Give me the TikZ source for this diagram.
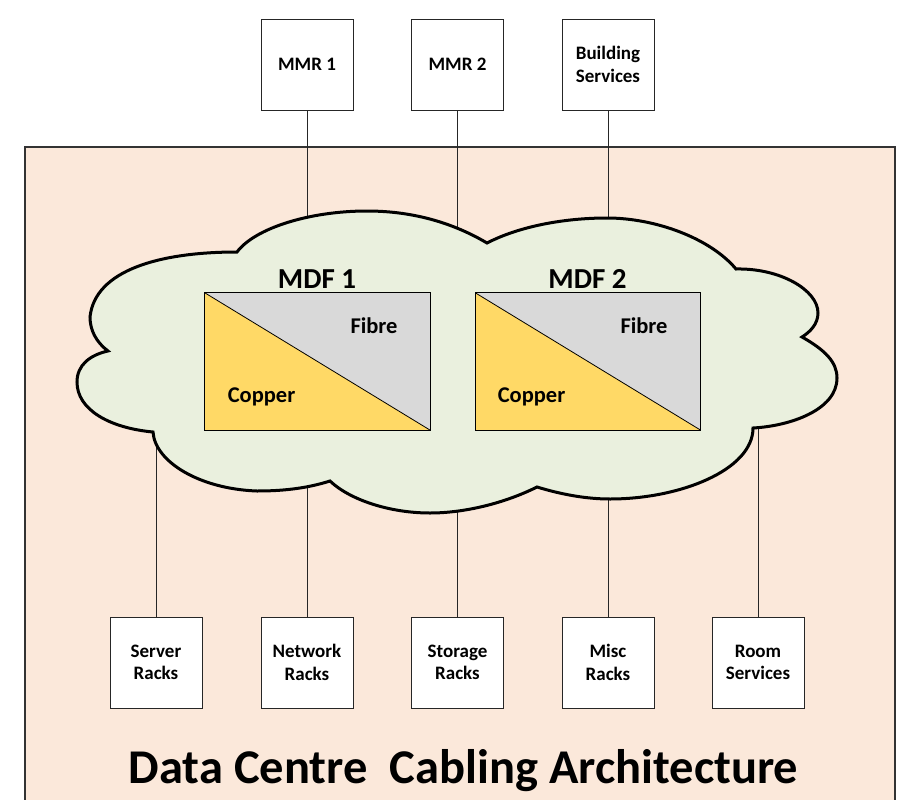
\documentclass[tikz,border=0pt]{standalone}
\usepackage{fontspec}
\setmainfont{Carlito}
\definecolor{bgpeach}{HTML}{FBE8DA}
\definecolor{cloudgreen}{HTML}{EAF0DE}
\definecolor{copperc}{HTML}{FFD966}
\definecolor{fibrec}{HTML}{D9D9D9}
\begin{document}
\begin{tikzpicture}[x=1pt,y=-1pt,
  box/.style={draw=black!85, line width=0.9pt, fill=white, minimum width=92pt, minimum height=91pt, inner sep=0pt, align=center, font=\fontsize{19}{22.5}\selectfont\bfseries},
  link/.style={draw=black!85, line width=0.8pt},
  cloudshape/.style={draw=black, fill=cloudgreen, line width=3pt},
  mdflabel/.style={anchor=base, font=\fontsize{29}{29}\selectfont\bfseries},
  partlabel/.style={anchor=base, font=\fontsize{22.5}{22.5}\selectfont\bfseries},
  mdfbox/.style={minimum width=225pt, minimum height=137pt, inner sep=0pt},
  mdfedge/.style={draw=black, line width=0.8pt}
]
\useasboundingbox (0,0) rectangle (902,800);
\clip (0,0) rectangle (902,800);
% room background
\draw[fill=bgpeach, draw=black!80, line width=1.2pt] (25,147) rectangle (895,812);

% top boxes
\node[box] (mmr1) at (307,64.5) {MMR 1};
\node[box] (mmr2) at (457.5,64.5) {MMR 2};
\node[box] (bsvc) at (608,64.5) {Building\\Services};

% bottom boxes
\node[box] (srv) at (156,662.5) {Server\\Racks};
\node[box] (net) at (307,662.5) {Network\\Racks};
\node[box] (sto) at (457.5,662.5) {Storage\\Racks};
\node[box] (misc) at (608,662.5) {Misc\\Racks};
\node[box] (room) at (758,662.5) {Room\\Services};

% connector ends hidden under the cloud
\coordinate (t1) at (307,260);
\coordinate (t2) at (457.5,260);
\coordinate (t3) at (608,260);
\coordinate (b1) at (156,420);
\coordinate (b2) at (307,470);
\coordinate (b3) at (457.5,490);
\coordinate (b4) at (608,480);
\coordinate (b5) at (758,415);

\draw[link] (mmr1) -- (t1);
\draw[link] (mmr2) -- (t2);
\draw[link] (bsvc) -- (t3);
\draw[link] (b1) -- (srv);
\draw[link] (b2) -- (net);
\draw[link] (b3) -- (sto);
\draw[link] (b4) -- (misc);
\draw[link] (b5) -- (room);

% cloud
\filldraw[cloudshape]
  (237,252) .. controls (255,228) and (310,211) .. (367,211)
            .. controls (415,211) and (455,224) .. (487,243)
            .. controls (520,226) and (565,218) .. (607,218)
            .. controls (655,218) and (710,238) .. (736,269)
            .. controls (780,268) and (818,290) .. (818,313)
            .. controls (818,324) and (810,332) .. (802,337)
            .. controls (825,350) and (837,362) .. (837,378)
            .. controls (837,410) and (790,426) .. (753,428)
            .. controls (753,470) and (680,499) .. (610,499)
            .. controls (585,499) and (560,494) .. (537,487)
            .. controls (505,503) and (465,513) .. (430,513)
            .. controls (390,513) and (350,500) .. (330,481)
            .. controls (305,489) and (280,491) .. (257,491)
            .. controls (200,489) and (155,462) .. (153,432)
            .. controls (110,428) and (77,410) .. (77,382)
            .. controls (77,365) and (90,355) .. (108,351)
            .. controls (96,342) and (90,330) .. (90,317)
            .. controls (95,270) and (160,252) .. (237,252)
  -- cycle;

% MDF 1
\node[mdfbox] (mdf1) at (317.5,361.5) {};
\fill[fibrec] (mdf1.north west) -- (mdf1.north east) -- (mdf1.south east) -- cycle;
\fill[copperc] (mdf1.north west) -- (mdf1.south east) -- (mdf1.south west) -- cycle;
\draw[mdfedge] (mdf1.north west) -- (mdf1.south east);
\draw[mdfedge] (mdf1.north west) rectangle (mdf1.south east);
\node[mdflabel] (mdf1lbl) at (317,288) {MDF 1};
\node[partlabel] (fib1) at (374,333) {Fibre};
\node[partlabel] (cop1) at (261.5,402) {Copper};

% MDF 2
\node[mdfbox] (mdf2) at (588,361.5) {};
\fill[fibrec] (mdf2.north west) -- (mdf2.north east) -- (mdf2.south east) -- cycle;
\fill[copperc] (mdf2.north west) -- (mdf2.south east) -- (mdf2.south west) -- cycle;
\draw[mdfedge] (mdf2.north west) -- (mdf2.south east);
\draw[mdfedge] (mdf2.north west) rectangle (mdf2.south east);
\node[mdflabel] (mdf2lbl) at (587.5,288) {MDF 2};
\node[partlabel] (fib2) at (644,333) {Fibre};
\node[partlabel] (cop2) at (531.5,402) {Copper};

% title
\node[anchor=base, font=\fontsize{48.5}{48.5}\selectfont\bfseries] (title) at (463.5,783) {Data Centre\ \ Cabling Architecture};
\end{tikzpicture}
\end{document}
